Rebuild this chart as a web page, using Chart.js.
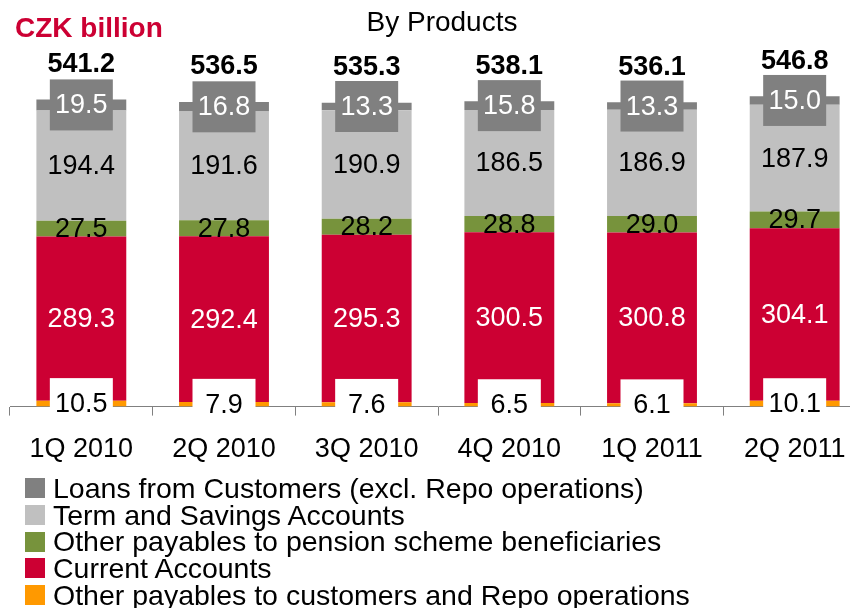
<!DOCTYPE html>
<html>
<head>
<meta charset="utf-8">
<script src="https://cdn.jsdelivr.net/npm/chart.js@4"></script>
<style>
  html, body { margin: 0; padding: 0; background: #fff; overflow: hidden; }
  body { width: 850px; height: 608px; position: relative; font-family: "Liberation Sans", Arial, sans-serif; }
  #wrap { position: absolute; left: 0; top: 0; width: 880px; height: 608px; }
  #unit { position: absolute; left: 15px; top: 12px; color: #CC0033; font-weight: bold; font-size: 28px; line-height: 32px; }
  #title { position: absolute; left: 0; width: 884px; text-align: center; top: 6px; font-size: 28px; line-height: 32px; color: #000; }
  #legend { position: absolute; left: 25px; top: 475px; }
  .row { height: 26.7px; display: flex; align-items: center; font-size: 28.5px; white-space: nowrap; }
  .sw { width: 20px; height: 20px; margin-right: 8px; flex: none; }
</style>
</head>
<body>
<div id="wrap"><canvas id="chart" width="880" height="608"></canvas></div>
<div id="unit">CZK billion</div>
<div id="title">By Products</div>
<div id="legend"></div>
<script>
var quarters = ['1Q 2010', '2Q 2010', '3Q 2010', '4Q 2010', '1Q 2011', '2Q 2011'];
var otherPayables = [10.5, 7.9, 7.6, 6.5, 6.1, 10.1];
var currentAccounts = [289.3, 292.4, 295.3, 300.5, 300.8, 304.1];
var pensionPayables = [27.5, 27.8, 28.2, 28.8, 29.0, 29.7];
var termSavings = [194.4, 191.6, 190.9, 186.5, 186.9, 187.9];
var loansCustomers = [19.5, 16.8, 13.3, 15.8, 13.3, 15.0];
var totals = [541.2, 536.5, 535.3, 538.1, 536.1, 546.8];

var FONT = '"Liberation Sans", Arial, sans-serif';

// label style per dataset: text colour and optional box behind it
var labelStyles = [
    { color: '#000', box: '#fff' },
    { color: '#fff', box: null },
    { color: '#000', box: null },
    { color: '#000', box: null },
    { color: '#fff', box: '#808080' }
];

var barLabels = {
    id: 'barLabels',
    afterDatasetsDraw: function(chart) {
        var ctx = chart.ctx;
        ctx.save();
        ctx.textAlign = 'center';
        ctx.textBaseline = 'middle';
        chart.data.datasets.forEach(function(ds, i) {
            var meta = chart.getDatasetMeta(i);
            var st = labelStyles[i];
            meta.data.forEach(function(el, j) {
                var cy = (el.y + el.base) / 2;
                if (st.box) {
                    ctx.fillStyle = st.box;
                    ctx.fillRect(el.x - 31.5, cy - 25.5, 63, 51);
                }
                ctx.fillStyle = st.color;
                ctx.font = '27px ' + FONT;
                ctx.fillText(ds.data[j].toFixed(1), el.x, cy + 1);
            });
        });
        // totals above the stacks
        var top = chart.getDatasetMeta(chart.data.datasets.length - 1);
        ctx.fillStyle = '#000';
        ctx.font = 'bold 27px ' + FONT;
        top.data.forEach(function(el, j) {
            ctx.fillText(totals[j].toFixed(1), el.x, el.y - 35);
        });
        ctx.restore();
    }
};

var ctx = document.getElementById('chart').getContext('2d');
var myChart = new Chart(ctx, {
    type: 'bar',
    data: {
        labels: quarters,
        datasets: [
            { label: 'Other payables to customers and Repo operations', data: otherPayables, backgroundColor: '#FF9900' },
            { label: 'Current Accounts', data: currentAccounts, backgroundColor: '#CC0033' },
            { label: 'Other payables to pension scheme beneficiaries', data: pensionPayables, backgroundColor: '#77933C' },
            { label: 'Term and Savings Accounts', data: termSavings, backgroundColor: '#C0C0C0' },
            { label: 'Loans from Customers (excl. Repo operations)', data: loansCustomers, backgroundColor: '#808080' }
        ]
    },
    options: {
        responsive: false,
        animation: false,
        events: [],
        datasets: { bar: { categoryPercentage: 1, barPercentage: 0.63 } },
        layout: { padding: { left: 10, right: 14, top: 66, bottom: 124 } },
        plugins: { legend: { display: false }, tooltip: { enabled: false } },
        scales: {
            x: {
                stacked: true,
                grid: { drawOnChartArea: false, drawTicks: true, tickLength: 9, color: '#808080', offset: true },
                border: { display: true, color: '#808080', width: 1 },
                ticks: { color: '#000', padding: 18, font: { family: FONT, size: 27, lineHeight: 1.2 } }
            },
            y: {
                stacked: true,
                display: false,
                min: 0,
                max: 600
            }
        }
    },
    plugins: [barLabels]
});

// legend, top to bottom in reverse stack order
var legend = document.getElementById('legend');
myChart.data.datasets.slice().reverse().forEach(function(ds) {
    var row = document.createElement('div');
    row.className = 'row';
    var sw = document.createElement('span');
    sw.className = 'sw';
    sw.style.background = ds.backgroundColor;
    var txt = document.createElement('span');
    txt.textContent = ds.label;
    row.appendChild(sw);
    row.appendChild(txt);
    legend.appendChild(row);
});
</script>
</body>
</html>
